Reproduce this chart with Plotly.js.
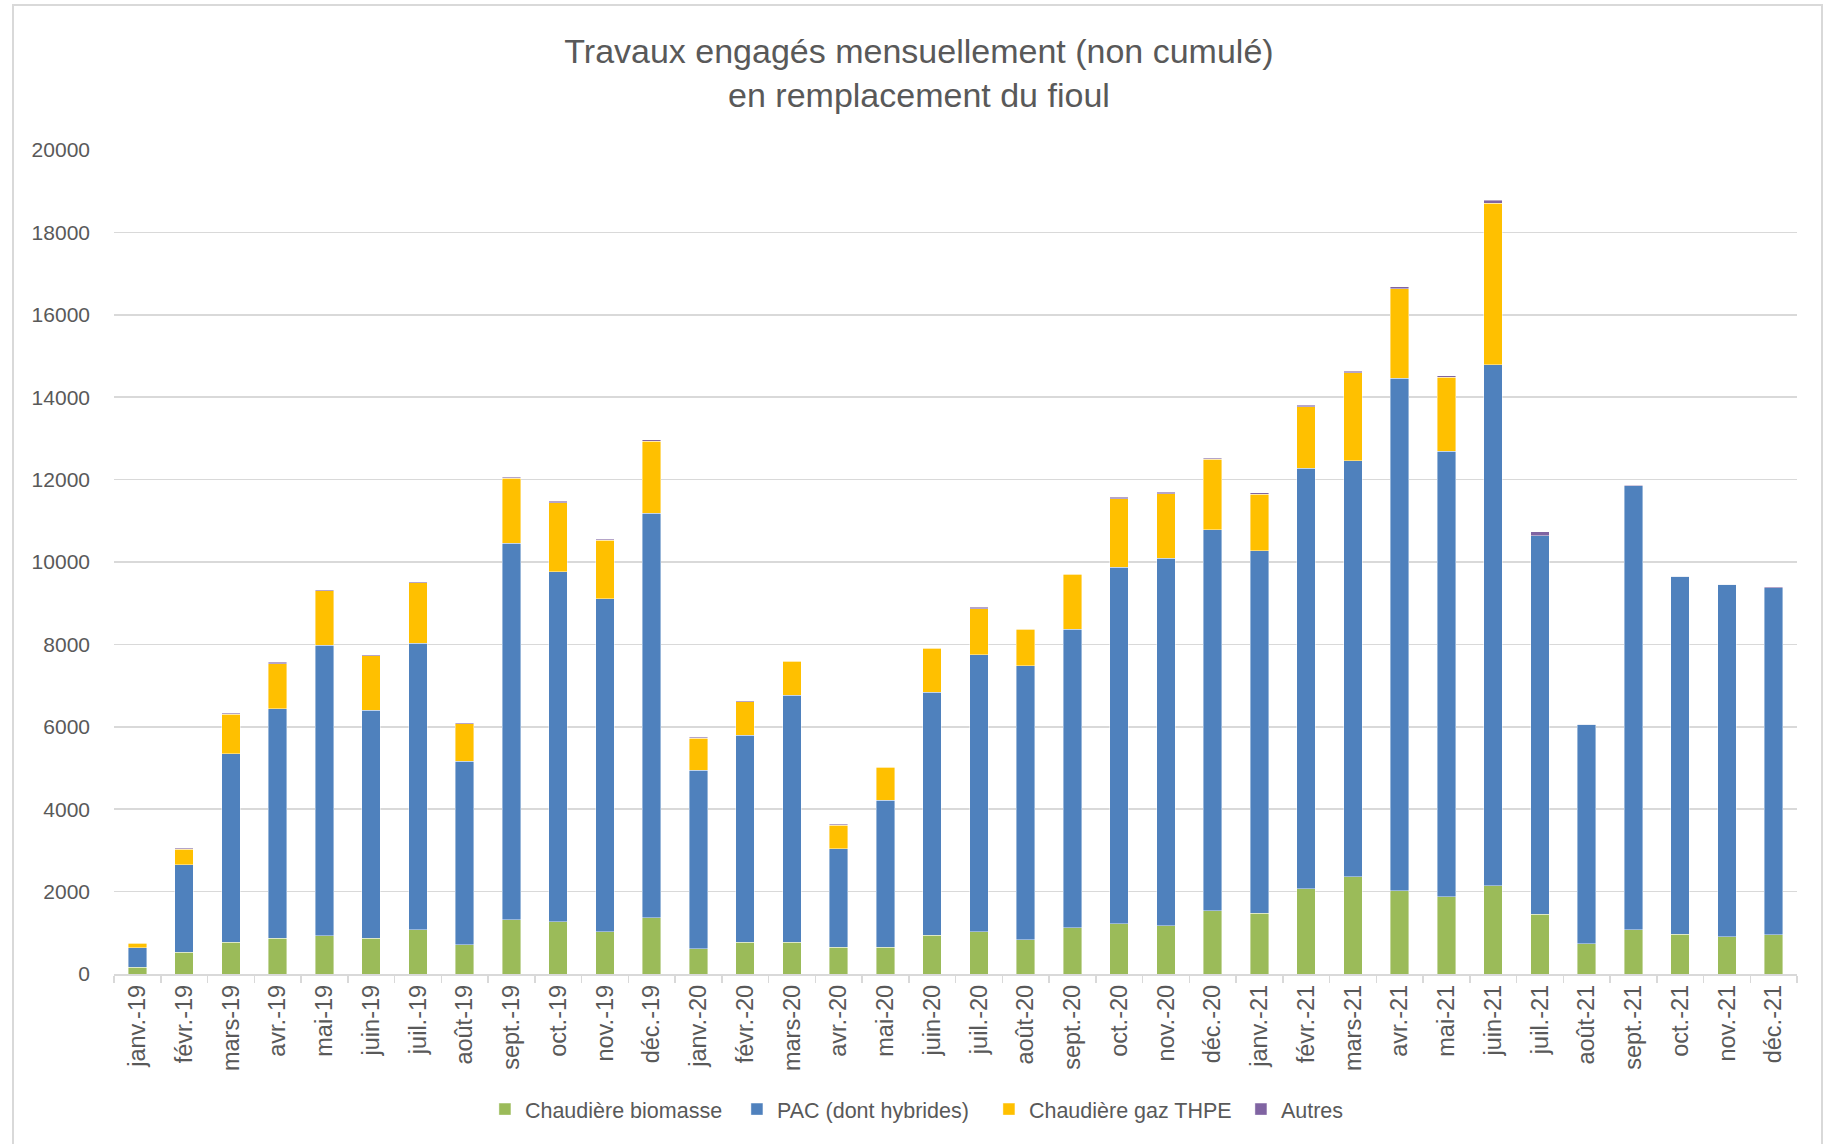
<!DOCTYPE html>
<html>
<head>
<meta charset="utf-8">
<script src="https://cdn.plot.ly/plotly-3.0.1.min.js"></script>
<style>
  html, body { margin: 0; padding: 0; background: #ffffff; overflow: hidden; }
  #frame { position: absolute; left: 12px; top: 4px; width: 1811px; height: 1200px; border: 2px solid #d9d9d9; box-sizing: border-box; }
  #chart { position: absolute; left: 0; top: 0; width: 1827px; height: 1144px; }
</style>
</head>
<body>
<div id="frame"></div>
<div id="chart"></div>
<script>
const months = ["janv.-19","févr.-19","mars-19","avr.-19","mai-19","juin-19","juil.-19","août-19","sept.-19","oct.-19","nov.-19","déc.-19",
                "janv.-20","févr.-20","mars-20","avr.-20","mai-20","juin-20","juil.-20","août-20","sept.-20","oct.-20","nov.-20","déc.-20",
                "janv.-21","févr.-21","mars-21","avr.-21","mai-21","juin-21","juil.-21","août-21","sept.-21","oct.-21","nov.-21","déc.-21"];

const biomasse = [165, 530, 765, 870, 925, 870, 1075, 710, 1320, 1270, 1020, 1360,
                  615, 765, 765, 655, 655, 940, 1020, 830, 1120, 1215, 1170, 1540,
                  1470, 2070, 2355, 2015, 1880, 2140, 1445, 735, 1075, 965, 900, 955];

const pac = [475, 2127, 4576, 5574, 7059, 5533, 6950, 4453, 9130, 8498, 8094, 9825,
             4331, 5025, 6006, 2383, 3568, 5899, 6732, 6650, 7245, 8662, 8925, 9237,
             8802, 10205, 10097, 12440, 10804, 12642, 9195, 5328, 10778, 8694, 8555, 8418];

const gazTHPE = [110, 368, 967, 1090, 1321, 1322, 1471, 913, 1580, 1676, 1417, 1744,
                 776, 818, 818, 572, 791, 1063, 1117, 885, 1335, 1663, 1567, 1716,
                 1377, 1499, 2139, 2180, 1798, 3924, 0, 0, 0, 0, 0, 0];

const autres = [10, 27, 27, 27, 27, 27, 27, 27, 27, 27, 27, 40,
                27, 20, 20, 20, 20, 20, 27, 20, 20, 27, 27, 27,
                27, 27, 40, 40, 40, 80, 95, 10, 10, 5, 10, 27];

const seriesNames = ["Chaudière biomasse", "PAC (dont hybrides)", "Chaudière gaz THPE", "Autres"];
const seriesColors = ["#9BBB59", "#4F81BD", "#FFC000", "#8064A2"];
const seriesValues = [biomasse, pac, gazTHPE, autres];

const yTicks = [0, 2000, 4000, 6000, 8000, 10000, 12000, 14000, 16000, 18000, 20000];

const FONT = "'Liberation Sans', Arial, sans-serif";
const TXT = "#595959";

const traces = seriesNames.map((name, i) => ({
  type: "bar",
  name: name,
  x: months,
  y: seriesValues[i],
  marker: { color: seriesColors[i], line: { color: "rgba(255,255,255,0.7)", width: 0.6 } },
  hoverinfo: "x+y+name"
}));

const layout = {
  width: 1827,
  height: 1144,
  paper_bgcolor: "rgba(0,0,0,0)",
  plot_bgcolor: "rgba(0,0,0,0)",
  barmode: "stack",
  bargap: 0.6,
  margin: { l: 114, r: 30, t: 150, b: 170 },
  font: { family: FONT, color: TXT },
  title: {
    text: "Travaux engagés mensuellement (non cumulé)<br>en remplacement du fioul",
    font: { family: FONT, size: 34, color: TXT },
    x: 0.503, xref: "container", xanchor: "center",
    y: 0.945, yref: "container", yanchor: "top"
  },
  xaxis: {
    type: "category",
    tickangle: -90,
    tickson: "boundaries",
    ticks: "outside",
    ticklen: 7,
    tickwidth: 1.5,
    tickcolor: "#d9d9d9",
    showline: true,
    linecolor: "#d9d9d9",
    linewidth: 1.5,
    showgrid: false,
    tickfont: { family: FONT, size: 23.5, color: TXT },
    fixedrange: true
  },
  yaxis: {
    range: [0, 20000],
    tickvals: yTicks,
    ticktext: yTicks.map(String),
    showgrid: true,
    gridcolor: "#d9d9d9",
    gridwidth: 1.5,
    zeroline: false,
    showline: false,
    ticks: "",
    ticklabelstandoff: 23,
    tickfont: { family: FONT, size: 21, color: TXT },
    fixedrange: true
  },
  showlegend: true,
  legend: {
    orientation: "h",
    x: 0.2204, xanchor: "left",
    y: -0.164, yanchor: "middle",
    font: { family: FONT, size: 21.5, color: TXT },
    traceorder: "normal",
    itemwidth: 30,
    entrywidth: 207,
    entrywidthmode: "pixels",
    bgcolor: "rgba(0,0,0,0)"
  }
};

Plotly.newPlot("chart", traces, layout, { displayModeBar: false, staticPlot: true });
</script>
</body>
</html>
